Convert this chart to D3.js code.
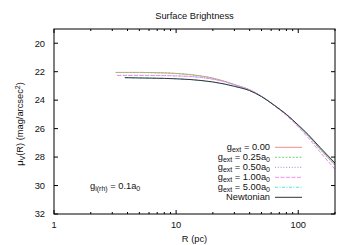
<!DOCTYPE html>
<html><head><meta charset="utf-8">
<script src="https://cdn.jsdelivr.net/npm/d3@7"></script>
<style>
html,body{margin:0;padding:0;background:#fff;}
svg{display:block;font-family:"Liberation Sans",Arial,Helvetica,sans-serif;}
</style></head>
<body><svg id="c" width="350" height="245"></svg>
<script>
// ---- data ----
const rGrid = [5, 6, 8, 10, 13, 16, 20, 25, 30, 40, 50, 64, 80, 100, 120, 150, 200];
const rStart = [3.2, 3.2, 3.3, 3.3, 3.8, 3.8];
const seriesNames = ["0.00", "0.25a", "0.50a", "1.00a", "5.00a", "Newtonian"];
const muG000 = [22.05, 22.05, 22.06, 22.08, 22.12, 22.2, 22.3, 22.45, 22.68, 22.9, 23.28, 23.72, 24.36, 25.0, 25.78, 26.45, 27.38, 28.52];
const muG025 = [22.06, 22.06, 22.07, 22.09, 22.13, 22.21, 22.31, 22.46, 22.69, 22.91, 23.29, 23.73, 24.37, 25.02, 25.8, 26.48, 27.42, 28.56];
const muG050 = [22.25, 22.25, 22.26, 22.27, 22.29, 22.33, 22.4, 22.52, 22.7, 22.92, 23.28, 23.73, 24.38, 25.03, 25.8, 26.5, 27.45, 28.6];
const muG100 = [22.27, 22.27, 22.27, 22.28, 22.3, 22.34, 22.41, 22.53, 22.71, 22.92, 23.27, 23.72, 24.4, 25.08, 25.88, 26.62, 27.62, 28.85];
const muG500 = [22.42, 22.44, 22.45, 22.47, 22.5, 22.55, 22.62, 22.72, 22.87, 23.03, 23.33, 23.74, 24.37, 25.0, 25.76, 26.42, 27.32, 28.46];
const muNewt = [22.42, 22.44, 22.45, 22.47, 22.5, 22.55, 22.62, 22.72, 22.87, 23.03, 23.33, 23.75, 24.38, 25.0, 25.75, 26.4, 27.3, 28.42];
const xTickVals = [1, 10, 100];
const yTickVals = [20, 22, 24, 26, 28, 30, 32];

const allSeries = [muG000, muG025, muG050, muG100, muG500, muNewt];
const colors = ["#f28c8c", "#6ed66e", "#8c8cf0", "#f28cf2", "#55e3e3", "#333333"];
const dashes = [null, "2,1.5", "1,1.8", "4,1.5", "3,1.5,1,1.5", null];

const svg = d3.select("#c");
const L = 54, R = 335, T = 29, B = 214;
const x = d3.scaleLog().domain([1, 200]).range([L, R]);
const y = d3.scaleLinear().domain([19, 32]).range([T, B]);

// title
svg.append("text").attr("x", 194.5).attr("y", 18.5).attr("text-anchor", "middle")
  .attr("font-size", 9.3).attr("fill", "#111").text("Surface Brightness");

// curves
const line = d3.line().x(d => x(d[0])).y(d => y(d[1])).curve(d3.curveMonotoneX);
const clip = svg.append("clipPath").attr("id", "clp").append("rect")
  .attr("x", L).attr("y", T).attr("width", R - L).attr("height", B - T);
allSeries.forEach((vals, i) => {
  const pts = [[rStart[i], vals[0]]].concat(rGrid.map((r, k) => [r, vals[k + 1]]));
  svg.append("path").attr("d", line(pts)).attr("fill", "none")
    .attr("stroke", colors[i]).attr("stroke-width", 1)
    .attr("stroke-dasharray", dashes[i]).attr("clip-path", "url(#clp)");
});

// axes (ticks inward, mirrored)
const minor = [];
[1, 10, 100].forEach(d => { for (let k = 2; k <= 9; k++) { if (d * k <= 200) minor.push(d * k); } });
const g = svg.append("g").attr("stroke", "#000").attr("stroke-width", 1);
xTickVals.forEach(v => {
  g.append("line").attr("x1", x(v)).attr("x2", x(v)).attr("y1", B).attr("y2", B - 4);
  g.append("line").attr("x1", x(v)).attr("x2", x(v)).attr("y1", T).attr("y2", T + 4);
});
minor.forEach(v => {
  g.append("line").attr("x1", x(v)).attr("x2", x(v)).attr("y1", B).attr("y2", B - 2);
  g.append("line").attr("x1", x(v)).attr("x2", x(v)).attr("y1", T).attr("y2", T + 2);
});
yTickVals.forEach(v => {
  g.append("line").attr("x1", L).attr("x2", L + 4).attr("y1", y(v)).attr("y2", y(v));
  g.append("line").attr("x1", R).attr("x2", R - 4).attr("y1", y(v)).attr("y2", y(v));
});
svg.append("rect").attr("x", L).attr("y", T).attr("width", R - L).attr("height", B - T)
  .attr("fill", "none").attr("stroke", "#000").attr("stroke-width", 1);

// tick labels
xTickVals.forEach(v => {
  svg.append("text").attr("x", x(v)).attr("y", 227.5).attr("text-anchor", "middle")
    .attr("font-size", 9.3).attr("fill", "#111").text(d3.format("d")(v));
});
yTickVals.forEach(v => {
  svg.append("text").attr("x", 45).attr("y", y(v) + 3.3).attr("text-anchor", "end")
    .attr("font-size", 9.3).attr("fill", "#111").text(v);
});

// axis titles
svg.append("text").attr("x", 194.5).attr("y", 241.5).attr("text-anchor", "middle")
  .attr("font-size", 9.3).attr("fill", "#111").text("R (pc)");
const yl = svg.append("text").attr("transform", "translate(23,124) rotate(-90)")
  .attr("text-anchor", "middle").attr("font-size", 9.3).attr("fill", "#111");
yl.append("tspan").text("μ");
yl.append("tspan").attr("dy", 2).attr("font-size", 7).text("V");
yl.append("tspan").attr("dy", -2).text("(R) (mag/arcsec");
yl.append("tspan").attr("dy", -3.5).attr("font-size", 7).text("2");
yl.append("tspan").attr("dy", 3.5).text(")");

// annotation
const an = svg.append("text").attr("x", 90).attr("y", 189).attr("font-size", 9.3).attr("fill", "#111");
an.append("tspan").text("g");
an.append("tspan").attr("dy", 2).attr("font-size", 7).text("i(rh)");
an.append("tspan").attr("dy", -2).text(" = 0.1a");
an.append("tspan").attr("dy", 2).attr("font-size", 7).text("0");

// legend
seriesNames.forEach((name, i) => {
  const ly = 147.3 + i * 10;
  const t = svg.append("text").attr("x", 270).attr("y", ly + 3).attr("text-anchor", "end")
    .attr("font-size", 9.3).attr("fill", "#111");
  if (name === "Newtonian") {
    t.text(name);
  } else {
    t.append("tspan").text("g");
    t.append("tspan").attr("dy", 2).attr("font-size", 7).text("ext");
    t.append("tspan").attr("dy", -2).text(" = " + name);
    if (name.endsWith("a")) t.append("tspan").attr("dy", 2).attr("font-size", 7).text("0");
  }
  svg.append("line").attr("x1", 275).attr("x2", 302).attr("y1", ly).attr("y2", ly)
    .attr("stroke", colors[i]).attr("stroke-width", 1).attr("stroke-dasharray", dashes[i]);
});
</script></body></html>
